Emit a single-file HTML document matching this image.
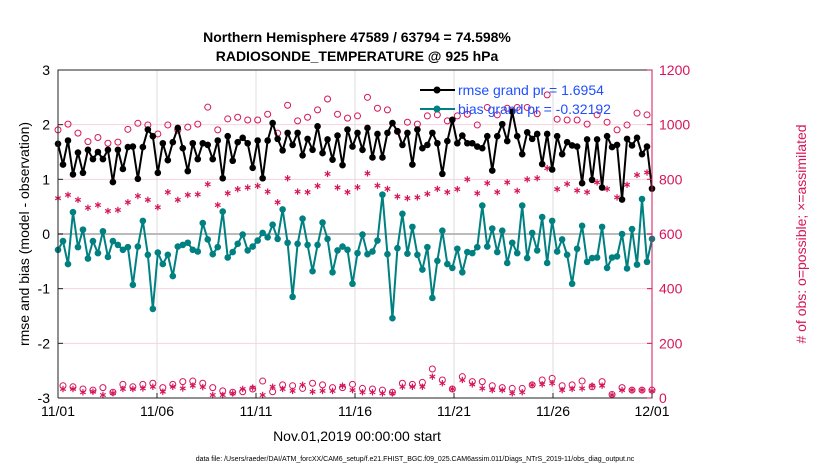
<!DOCTYPE html>
<html><head><meta charset="utf-8"><style>
body{margin:0;background:#fff;}
svg{display:block;font-family:"Liberation Sans",Arial,sans-serif;}
</style></head><body>
<svg id="chart" width="830" height="470" viewBox="0 0 830 470" xmlns="http://www.w3.org/2000/svg">
<g id="grid"></g>
<g id="series"></g>
<g id="axes"></g>
<text x="357" y="42" text-anchor="middle" font-size="14" font-weight="bold">Northern Hemisphere 47589 / 63794 = 74.598%</text>
<text x="357" y="61" text-anchor="middle" font-size="14" font-weight="bold">RADIOSONDE_TEMPERATURE @ 925 hPa</text>
<text transform="translate(29,234) rotate(-90)" text-anchor="middle" font-size="14">rmse and bias (model - observation)</text>
<text transform="translate(806,234) rotate(-90)" text-anchor="middle" font-size="14" fill="#d6155a"># of obs: o=possible; ×=assimilated</text>
<text x="357" y="441" text-anchor="middle" font-size="14">Nov.01,2019 00:00:00 start</text>
<text x="415" y="461" text-anchor="middle" font-size="7">data file: /Users/raeder/DAI/ATM_forcXX/CAM6_setup/f.e21.FHIST_BGC.f09_025.CAM6assim.011/Diags_NTrS_2019-11/obs_diag_output.nc</text>
<g>
<line x1="420" y1="90" x2="455" y2="90" stroke="#000" stroke-width="2"/>
<circle cx="437" cy="90" r="3.5" fill="#000"/>
<text x="458" y="95" font-size="14" fill="#1f4fff">rmse grand pr = 1.6954</text>
<line x1="420" y1="109" x2="455" y2="109" stroke="#008080" stroke-width="2"/>
<circle cx="437" cy="109" r="3.5" fill="#008080"/>
<text x="458" y="114" font-size="14" fill="#1f4fff">bias grand pr = -0.32192</text>
</g>
</svg>
<script>
const rmse=[1.65,1.27,1.71,1.09,1.49,1.12,1.54,1.37,1.50,1.37,1.54,0.95,1.54,1.19,1.59,1.60,1.01,1.59,1.91,1.79,1.12,1.66,1.35,1.68,1.94,1.57,1.15,1.66,1.37,1.66,
1.63,1.37,1.71,1.02,1.79,1.34,1.68,1.76,1.66,1.21,1.71,1.02,1.71,2.03,1.74,1.53,1.85,1.63,1.85,1.44,1.74,1.54,1.97,1.48,1.73,1.36,1.80,1.26,1.91,1.60,1.85,
1.54,1.94,1.40,1.83,1.40,1.85,2.03,1.88,1.63,1.85,1.27,1.91,1.57,1.63,1.85,1.66,1.10,1.70,2.09,1.66,1.80,1.66,1.66,1.60,1.57,1.79,1.16,1.79,2.01,1.70,
2.24,1.79,1.46,1.86,1.74,1.83,1.28,1.83,1.18,1.79,1.46,1.68,1.62,1.60,0.93,1.73,0.99,1.73,0.85,1.79,1.59,1.63,0.63,1.74,1.62,1.76,1.46,1.60,0.83];
const bias=[-0.29,-0.13,-0.55,0.40,-0.24,0.08,-0.45,-0.13,-0.35,0.05,-0.42,-0.13,-0.20,-0.29,-0.24,-0.93,-0.23,0.24,-0.38,-1.37,-0.34,-0.55,-0.38,-0.77,-0.23,-0.20,-0.16,-0.29,-0.32,0.20,
-0.10,-0.37,-0.24,0.41,-0.43,-0.33,-0.18,-0.01,-0.30,-0.23,-0.12,0.02,-0.06,0.17,-0.09,0.45,-0.16,-1.15,-0.18,0.28,-0.20,-0.68,-0.20,0.21,-0.09,-0.70,-0.30,-0.23,-0.29,-0.91,-0.35,
-0.01,-0.37,-0.32,-0.12,0.72,-0.37,-1.54,-0.26,0.37,-0.36,0.13,-0.38,-0.65,-0.24,-1.17,-0.49,0.06,-0.55,-0.62,-0.27,-0.70,-0.33,-0.35,-0.24,0.52,-0.23,0.10,-0.33,0.06,-0.53,
-0.16,-0.35,0.52,-0.44,0.02,-0.30,0.31,-0.53,0.24,-0.32,-0.10,-0.38,-0.91,-0.27,0.15,-0.51,-0.44,-0.43,0.13,-0.62,-0.43,-0.41,0.00,-0.63,0.09,-0.56,0.64,-0.51,-0.09];
const possible=[981,45,1002,41,969,33,938,29,953,38,932,21,936,50,983,41,1005,50,999,54,966,38,999,50,980,60,991,62,1002,54,1064,
38,981,26,1021,21,1027,23,1017,33,1017,62,1038,23,969,48,1071,45,1014,35,1027,54,1054,48,1094,38,1038,38,1024,50,1032,
35,1100,33,1060,29,1054,21,975,54,1009,50,1002,57,1032,106,1036,66,1014,33,1032,78,1038,60,999,60,1063,45,1036,38,1060,
35,1063,35,1063,48,1040,66,1109,72,1020,45,1017,48,1017,62,1002,41,1036,60,1009,13,981,38,999,29,1042,29,1036,29];
const assimilated=[731,33,743,33,725,21,696,23,706,11,684,18,688,33,716,33,739,35,725,41,698,23,753,41,725,35,743,45,745,40,782,
11,706,11,749,17,764,33,770,38,776,11,755,41,716,33,804,26,755,48,753,23,776,26,820,26,770,45,753,29,771,
21,822,21,777,17,765,17,737,41,731,41,734,41,747,78,765,54,753,33,764,66,800,50,749,35,786,29,753,29,789,
17,758,21,800,48,804,50,841,54,764,29,783,33,759,35,753,45,789,45,765,11,734,29,780,29,816,29,825,26];
const xTickLabels=["11/01","11/06","11/11","11/16","11/21","11/26","12/01"];
const leftTicks=[3,2,1,0,-1,-2,-3];
const rightTicks=[1200,1000,800,600,400,200,0];

const NS="http://www.w3.org/2000/svg";
const X0=58,X1=652,Y0=70,Y1=398;
const xs=i=>X0+(X1-X0)*i/(rmse.length-1);
const xd=d=>X0+(X1-X0)*d/30;
const yl=v=>Y1-(v+3)/6*(Y1-Y0);
const yr=v=>Y1-v/1200*(Y1-Y0);
function mk(tag,attrs,parent){const e=document.createElementNS(NS,tag);for(const k in attrs)e.setAttribute(k,attrs[k]);parent.appendChild(e);return e;}
const grid=document.getElementById('grid'),ser=document.getElementById('series'),axes=document.getElementById('axes');
rightTicks.forEach(t=>{const l=mk('line',{x1:X0,x2:X1,y1:yr(t),y2:yr(t),stroke:'#f6d3df','stroke-width':1},grid);

});
xTickLabels.forEach((t,k)=>{const l=mk('line',{x1:xd(k*5),x2:xd(k*5),y1:Y0,y2:Y1,stroke:'#dddddd','stroke-width':1},grid);

});
const z=mk('line',{x1:X0,x2:X1,y1:yl(0),y2:yl(0),stroke:'#bbbbbb','stroke-width':2},grid);


const red='#d6155a';
possible.forEach((v,i)=>{const c=mk('circle',{cx:xs(i),cy:yr(v),r:3,fill:'none',stroke:red,'stroke-width':1},ser);

});
assimilated.forEach((v,i)=>{const g=mk('g',{stroke:red,'stroke-width':1.2},ser);


const cx=xs(i),cy=yr(v),r=3.2;
mk('line',{x1:cx,x2:cx,y1:cy-r,y2:cy+r},g);mk('line',{x1:cx-r*0.87,x2:cx+r*0.87,y1:cy-r/2,y2:cy+r/2},g);mk('line',{x1:cx-r*0.87,x2:cx+r*0.87,y1:cy+r/2,y2:cy-r/2},g);});
function series(arr,col,name){const p=mk('polyline',{points:arr.map((v,i)=>xs(i)+','+yl(v)).join(' '),fill:'none',stroke:col,'stroke-width':2},ser);


arr.forEach((v,i)=>{const c=mk('circle',{cx:xs(i),cy:yl(v),r:3.3,fill:col},ser);

});}
series(bias,'#008080','bias');
series(rmse,'#000000','rmse');
const box=mk('path',{d:`M${X0},${Y1}V${Y0}H${X1}V${Y1}H${X0}`,fill:'none',stroke:'#222','stroke-width':1},axes);


leftTicks.forEach(t=>{mk('line',{x1:X0,x2:X0+5,y1:yl(t),y2:yl(t),stroke:'#222'},axes);
const tx=mk('text',{x:X0-8,y:yl(t)+5,'text-anchor':'end','font-size':14},axes);tx.textContent=t;

});
rightTicks.forEach(t=>{mk('line',{x1:X1,x2:X1-5,y1:yr(t),y2:yr(t),stroke:red},axes);
const tx=mk('text',{x:X1+7,y:yr(t)+5,'font-size':14,fill:red},axes);tx.textContent=t;

});
mk('line',{x1:X1,x2:X1,y1:Y0,y2:Y1,stroke:red},axes);
xTickLabels.forEach((t,k)=>{mk('line',{x1:xd(k*5),x2:xd(k*5),y1:Y1,y2:Y1-5,stroke:'#222'},axes);
const tx=mk('text',{x:xd(k*5),y:Y1+18,'text-anchor':'middle','font-size':14},axes);tx.textContent=t;

});
</script>
</body></html>
